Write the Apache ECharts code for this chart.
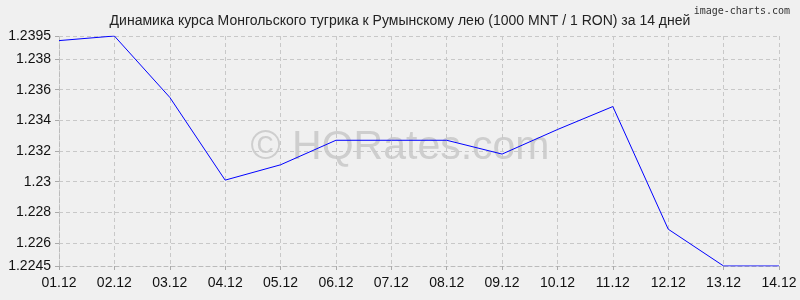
<!DOCTYPE html>
<html>
<head>
<meta charset="utf-8">
<script src="https://cdn.jsdelivr.net/npm/echarts@6/dist/echarts.min.js"></script>
<style>
html,body{margin:0;padding:0;background:#f0f0f0;}
#c{width:800px;height:300px;}
</style>
</head>
<body>
<div id="c"></div>
<script>
const categories = ['01.12','02.12','03.12','04.12','05.12','06.12','07.12','08.12','09.12','10.12','11.12','12.12','13.12','14.12'];
const rates = [1.2392,1.2395,1.2355,1.2301,1.2311,1.2327,1.2327,1.2327,1.2318,1.2334,1.2349,1.2269,1.2245,1.2245];
const yTicks = [1.2245,1.226,1.228,1.23,1.232,1.234,1.236,1.238,1.2395];
const yMin = 1.2245, yMax = 1.2395;
const titleText = 'Динамика курса Монгольского тугрика к Румынскому лею (1000 MNT / 1 RON) за 14 дней';

const chart = echarts.init(document.getElementById('c'));
const dashed = {color:'#c8c8c8', type:[4,3], width:1};
chart.setOption({
  backgroundColor:'#f0f0f0',
  animation:false,
  title:[{
    text:titleText, left:'center', top:9,
    textStyle:{fontFamily:'Liberation Sans, Arial, sans-serif', fontSize:14, fontWeight:'normal', color:'#222'}
  },{
    text:'image-charts.com', right:5, top:1,
    textStyle:{fontFamily:'DejaVu Sans Mono, monospace', fontSize:10, fontWeight:'normal', color:'#333'}
  }],
  graphic:[{
    type:'text', left:'center', top:127, z:0, silent:true,
    style:{text:'© HQRates.com', fontFamily:'Liberation Sans, Arial, sans-serif', fontSize:41, fill:'rgba(150,150,150,0.38)'}
  }],
  grid:{left:59, right:21, top:36, bottom:34, containLabel:false},
  xAxis:{
    type:'category', data:categories, boundaryGap:false,
    axisLine:{show:true, lineStyle:{color:'#bbb', type:[4,3]}},
    axisTick:{show:true, length:4, lineStyle:{color:'#aaa'}},
    axisLabel:{color:'#111', fontSize:14, fontFamily:'Liberation Sans, Arial, sans-serif', margin:10},
    splitLine:{show:true, lineStyle:dashed}
  },
  yAxis:{
    type:'value', min:yMin, max:yMax,
    axisLine:{show:true, lineStyle:{color:'#bbb', type:[4,3]}},
    axisTick:{show:true, length:4, customValues:yTicks, lineStyle:{color:'#aaa'}},
    axisLabel:{color:'#111', fontSize:14, fontFamily:'Liberation Sans, Arial, sans-serif', margin:8, customValues:yTicks},
    splitLine:{show:true, customValues:yTicks, lineStyle:dashed}
  },
  series:[{
    type:'line', data:rates, symbol:'none', z:5,
    lineStyle:{color:'#0000ff', width:1}
  }]
});
</script>
</body>
</html>
